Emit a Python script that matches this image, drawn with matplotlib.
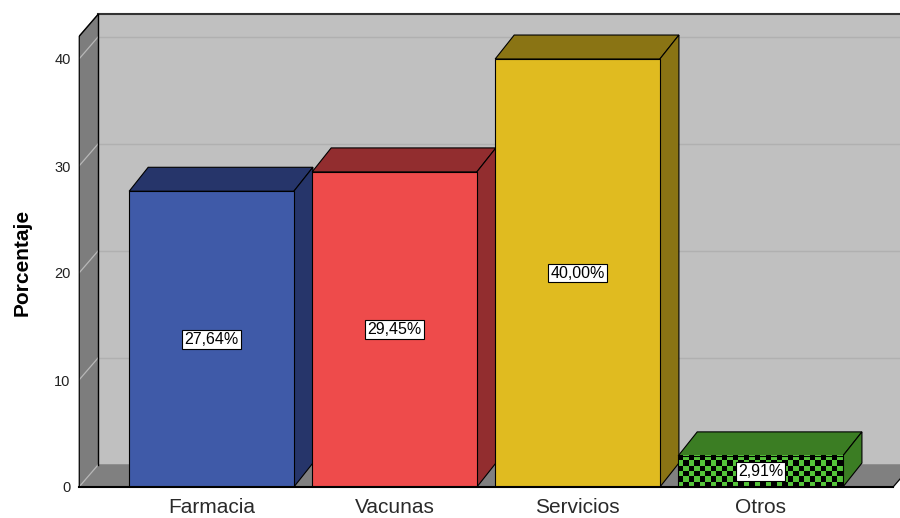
import matplotlib.pyplot as plt
import numpy as np

plt.rcParams['font.family'] = ['Liberation Sans', 'DejaVu Sans']

# data
categories = ["Farmacia", "Vacunas", "Servicios", "Otros"]
values = [27.64, 29.45, 40.00, 2.91]
yticks = [0, 10, 20, 30, 40]

front_colors = ["#3f5aa8", "#ee4b4b", "#e0bb20", "#55c43a"]
dark_colors = ["#26356a", "#922d2f", "#8a7414", "#3b7d23"]

# geometry of the fake 3D box (data units)
width = 0.90
dx = 0.104        # depth offset along x
dy_bar = 2.24     # depth offset along y for bars
dy_wall = 2.06    # depth offset along y for walls
x0 = -0.724       # left wall front edge
x_right = 3.724   # front right corner of the floor
wall_top = 42.1
ytop = 487 / 10.7

fig = plt.figure(figsize=(9, 5.18), dpi=100)
ax = fig.add_axes([79 / 900, 31 / 518, 821 / 900, 487 / 518])
ax.set_xlim(x0, 3.762)
ax.set_ylim(0, ytop)
for s in ax.spines.values():
    s.set_visible(False)

# back wall, left wall, floor
ax.fill([x0 + dx, x_right + dx, x_right + dx, x0 + dx],
        [dy_wall, dy_wall, wall_top + dy_wall, wall_top + dy_wall],
        color="#c0c0c0", zorder=0, clip_on=False)
ax.fill([x0, x0 + dx, x0 + dx, x0], [0, dy_wall, wall_top + dy_wall, wall_top],
        color="#7d7d7d", zorder=0, clip_on=False)
ax.fill([x0, x0 + dx, x_right + dx, x_right], [0, dy_wall, dy_wall, 0],
        color="#808080", zorder=0, clip_on=False)

# gridlines on walls
for v in yticks:
    ax.plot([x0, x0 + dx], [v, v + dy_wall], color="#b8b8b8", lw=0.9, zorder=1)
    if v > 0:
        ax.plot([x0 + dx, x_right + dx], [v + dy_wall, v + dy_wall],
                color="#b0b0b0", lw=1.0, zorder=1)

# wall edges
ax.plot([x0 + dx, x_right + dx], [wall_top + dy_wall] * 2, color="#333333", lw=1.5, zorder=2)
ax.plot([x0, x0 + dx], [wall_top, wall_top + dy_wall], color="black", lw=1.0, zorder=2)
ax.plot([x0 + dx, x0 + dx], [dy_wall, wall_top + dy_wall], color="black", lw=1.0, zorder=2)
ax.plot([x0, x0], [0, wall_top], color="black", lw=1.2, zorder=2)
ax.plot([x_right, x_right + dx], [0, dy_wall], color="black", lw=0.8, zorder=2)

# bars
for i, (v, fc, dc) in enumerate(zip(values, front_colors, dark_colors)):
    xl = i - width / 2
    xr = i + width / 2
    # top face
    ax.fill([xl, xl + dx, xr + dx, xr], [v, v + dy_bar, v + dy_bar, v],
            facecolor=dc, edgecolor="black", lw=0.8, zorder=3)
    # side face
    ax.fill([xr, xr + dx, xr + dx, xr], [0, dy_bar, v + dy_bar, v],
            facecolor=dc, edgecolor="black", lw=0.8, zorder=3)
    # front face
    if i == 3:
        ncols, nrows = 30, 6
        checker = (np.indices((nrows, ncols)).sum(axis=0) % 2)
        cmap = plt.matplotlib.colors.ListedColormap(["black", fc])
        ax.imshow(checker, extent=(xl, xr, 0, v), aspect="auto", cmap=cmap,
                  interpolation="nearest", zorder=4)
        ax.fill([xl, xr, xr, xl], [0, 0, v, v], facecolor="none",
                edgecolor="black", lw=0.8, zorder=5)
    else:
        ax.fill([xl, xr, xr, xl], [0, 0, v, v], facecolor=fc,
                edgecolor="black", lw=0.8, zorder=4)
    ax.text(i, v / 2, f"{v:.2f}%".replace(".", ","), ha="center", va="center",
            fontsize=11.5, zorder=6,
            bbox=dict(boxstyle="square,pad=0.12", fc="white", ec="black", lw=0.8))

# floor front edge
ax.plot([x0, x_right], [0, 0], color="black", lw=1.5, zorder=6, clip_on=False)

ax.set_xlim(x0, 3.762)
ax.set_ylim(0, ytop)
ax.set_xticks(range(len(categories)))
ax.set_xticklabels(categories, fontsize=15, color="#2a2a2a")
ax.set_yticks(yticks)
ax.set_yticklabels([str(t) for t in yticks], fontsize=10.5, color="#222222")
ax.tick_params(axis="x", length=0, pad=8)
ax.tick_params(axis="y", length=0, pad=6)
fig.text(22 / 900, 1 - 262 / 518, "Porcentaje", rotation=90, ha="center",
         va="center", fontsize=15, fontweight="bold")

fig.savefig("out.png", dpi=100)
